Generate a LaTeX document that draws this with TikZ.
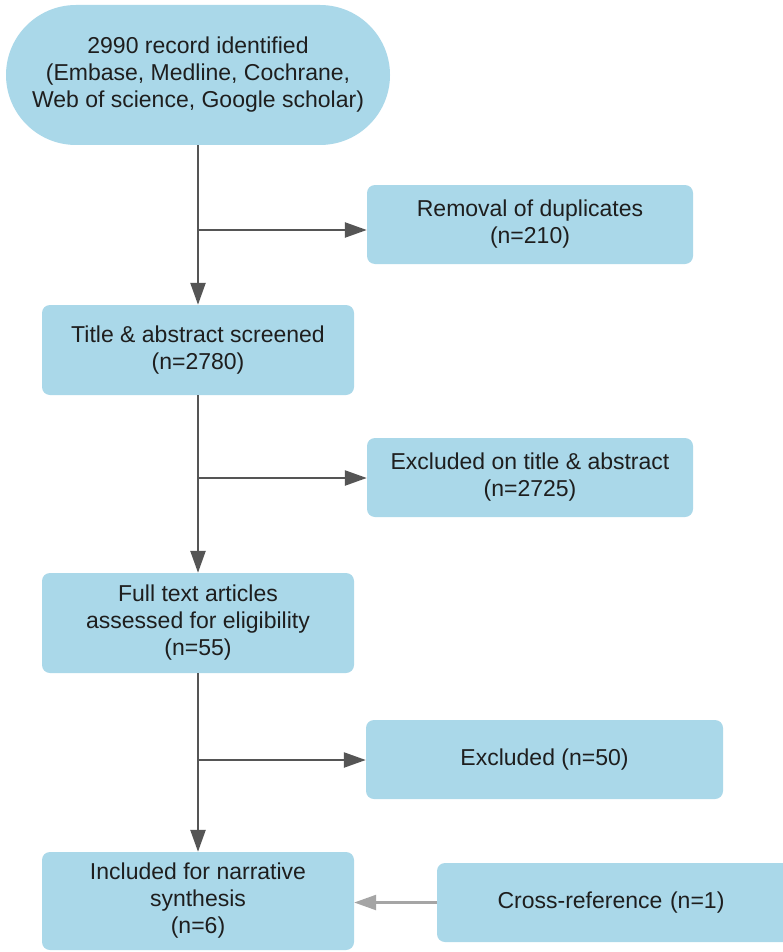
\documentclass[tikz,border=0pt]{standalone}
\usepackage{fontspec}
\setmainfont{Liberation Sans}
\usetikzlibrary{arrows.meta}
\definecolor{boxfill}{RGB}{170,216,233}
\definecolor{txt}{RGB}{30,30,30}
\definecolor{arrdark}{RGB}{85,85,85}
\definecolor{arrlight}{RGB}{165,165,165}
\begin{document}
\begin{tikzpicture}[x=1pt,y=-1pt,
  box/.style={fill=boxfill, draw=none, rounded corners=8pt, inner sep=0pt, align=center,
    text=txt, font=\fontsize{23}{27}\selectfont},
  arr/.style={draw=arrdark, line width=2.4pt, -{Triangle[length=22pt,width=15pt]}},
  arrlt/.style={draw=arrlight, line width=2.4pt, -{Triangle[length=22pt,width=15pt]}}]
\clip (0,0) rectangle (783,952);
\fill[white] (0,0) rectangle (783,952);

\node[box, rounded corners=70pt, minimum width=384pt, minimum height=140pt] (start) at (198,75)
  {2990 record identified\\(Embase, Medline, Cochrane,\\Web of science, Google scholar)};
\node[box, minimum width=326pt, minimum height=79pt] (removal) at (530,224.5)
  {Removal of duplicates\\(n=210)};
\node[box, minimum width=312pt, minimum height=90pt] (title) at (198,350)
  {Title \& abstract screened\\(n=2780)};
\node[box, minimum width=326pt, minimum height=79pt] (exclta) at (530,477.5)
  {Excluded on title \& abstract\\(n=2725)};
\node[box, minimum width=312pt, minimum height=100pt] (full) at (198,623)
  {Full text articles\\assessed for eligibility\\(n=55)};
\node[box, minimum width=357pt, minimum height=79pt] (excl) at (544.5,759.5)
  {Excluded (n=50)};
\node[box, minimum width=312pt, minimum height=98pt] (incl) at (198,901)
  {Included for narrative\\synthesis\\(n=6)};
\node[box, minimum width=358pt, minimum height=79pt, text width=346pt] (cross) at (616,902.5)
  {Cross-reference (n=1)\hspace*{10pt}};

\coordinate (b1) at (198,230);
\coordinate (b2) at (198,478);
\coordinate (b3) at (198,760);

\draw[arr] (start.south) -- (title.north);
\draw[arr] (b1) -- (b1 -| removal.west);
\draw[arr] (title.south) -- (full.north);
\draw[arr] (b2) -- (b2 -| exclta.west);
\draw[arr] (full.south) -- (incl.north);
\draw[arr] (b3) -- (b3 -| excl.west);
\draw[arrlt] (cross.west) -- (cross.west -| incl.east);
\end{tikzpicture}
\end{document}
